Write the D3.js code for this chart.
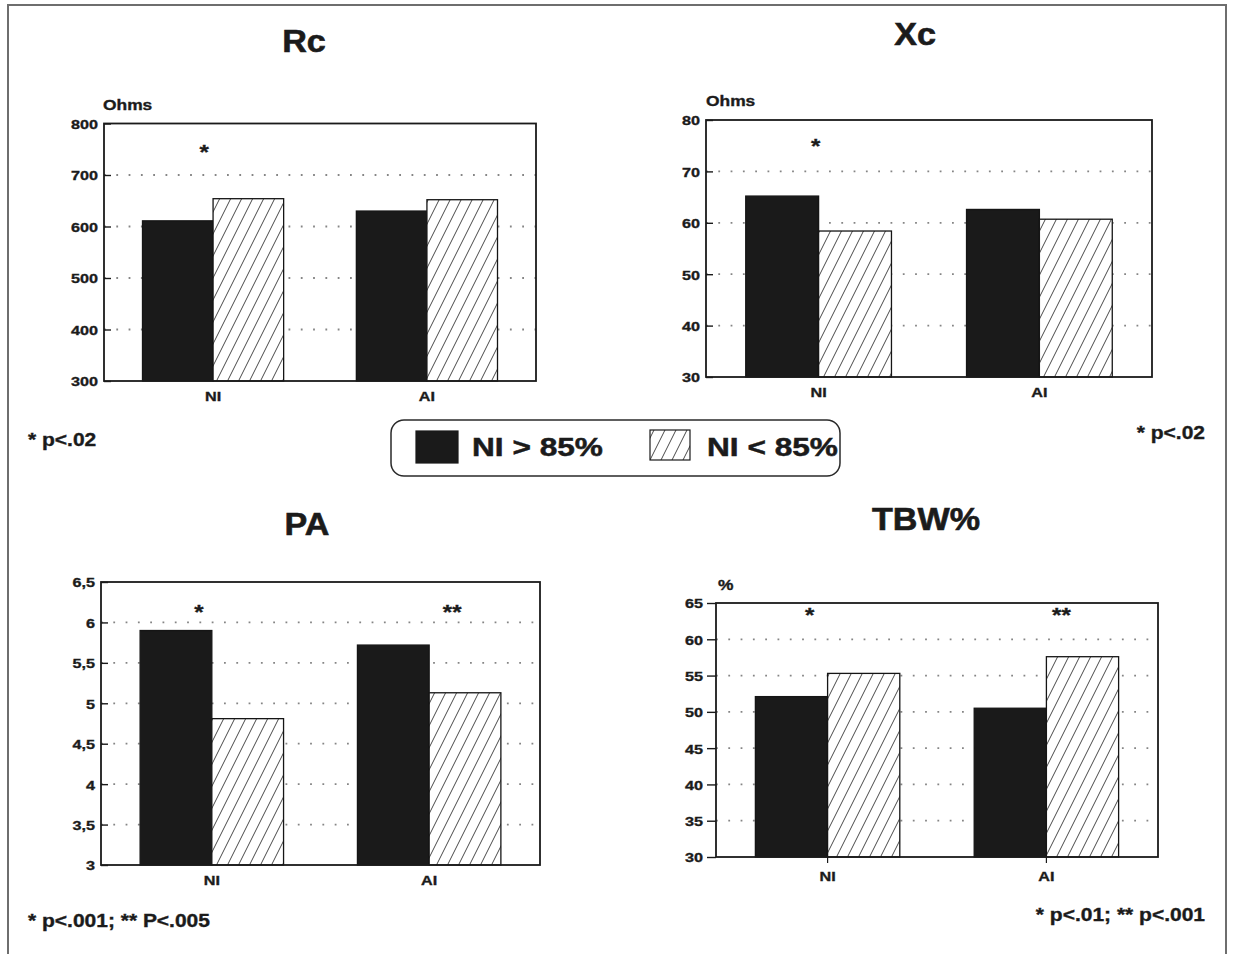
<!DOCTYPE html>
<html><head><meta charset="utf-8">
<script src="https://cdn.jsdelivr.net/npm/d3@7"></script>
<style>
body{margin:0;background:#fff}
svg{display:block}
text{font-family:"Liberation Sans",Arial,Helvetica,sans-serif;font-weight:bold;fill:#1b1b1b;stroke:#1b1b1b;stroke-width:0.35px}
</style>
</head><body>
<svg id="c" width="1233" height="954"></svg>
<script>
// ---------- data ----------
const categories = ["NI", "AI"];
const seriesNames = ["NI > 85%", "NI < 85%"];

const rcHigh = [611, 630];
const rcLow  = [654, 652];
const xcHigh = [65.2, 62.6];
const xcLow  = [58.4, 60.7];
const paHigh = [5.9, 5.72];
const paLow  = [4.81, 5.13];
const tbwHigh = [52.1, 50.5];
const tbwLow  = [55.3, 57.6];

const rcTicks  = [300, 400, 500, 600, 700, 800];
const xcTicks  = [30, 40, 50, 60, 70, 80];
const paTicks  = [3, 3.5, 4, 4.5, 5, 5.5, 6, 6.5];
const tbwTicks = [30, 35, 40, 45, 50, 55, 60, 65];

const rcStars  = ["*", ""];
const xcStars  = ["*", ""];
const paStars  = ["*", "**"];
const tbwStars = ["*", "**"];

const titles = ["Rc", "Xc", "PA", "TBW%"];
const units  = ["Ohms", "Ohms", "", "%"];
const notes  = ["* p<.02", "* p<.02", "* p<.001; ** P<.005", "* p<.01; ** p<.001"];

// ---------- layout ----------
const SX = 1.2; // horizontal stretch of the printed lettering
const panels = [
  {title: titles[0], unit: units[0], high: rcHigh, low: rcLow, ticks: rcTicks, stars: rcStars, note: notes[0],
   x0: 104, x1: 536, yTop: 123.5, yBot: 381, titleX: 304, titleY: 52, unitX: 103, unitY: 110,
   noteX: 28, noteY: 446, noteAnchor: "start", tickOut: false, starY: 25, starDx: [-9, 0], catPad: 10, xTick: 0},
  {title: titles[1], unit: units[1], high: xcHigh, low: xcLow, ticks: xcTicks, stars: xcStars, note: notes[1],
   x0: 706, x1: 1152, yTop: 120, yBot: 377, titleX: 915, titleY: 45, unitX: 706, unitY: 106,
   noteX: 1205, noteY: 439, noteAnchor: "end", tickOut: false, starY: 23, starDx: [-3, 0], catPad: 10, xTick: 0},
  {title: titles[2], unit: units[2], high: paHigh, low: paLow, ticks: paTicks, stars: paStars, note: notes[2],
   x0: 101, x1: 540, yTop: 582, yBot: 865, titleX: 307, titleY: 535, unitX: 101, unitY: 570,
   noteX: 28, noteY: 927, noteAnchor: "start", tickOut: false, starY: 27, starDx: [-13, 23], catPad: 10, xTick: 0},
  {title: titles[3], unit: units[3], high: tbwHigh, low: tbwLow, ticks: tbwTicks, stars: tbwStars, note: notes[3],
   x0: 716, x1: 1158, yTop: 603, yBot: 857, titleX: 926, titleY: 530, unitX: 718, unitY: 590,
   noteX: 1205, noteY: 921, noteAnchor: "end", tickOut: true, starY: 9, starDx: [-18, 15], catPad: 8, xTick: 6}
];

const svg = d3.select("#c");

// hatch pattern
const defs = svg.append("defs");
const pat = defs.append("pattern").attr("id", "hatch")
  .attr("patternUnits", "userSpaceOnUse").attr("width", 11).attr("height", 22);
pat.append("rect").attr("width", 11).attr("height", 22).attr("fill", "#fff");
pat.append("path").attr("d", "M0,22 L11,0 M-2,4 L2,-4 M9,26 L13,18")
  .attr("stroke", "#333").attr("stroke-width", 0.9).attr("fill", "none");

// outer frame
svg.append("rect").attr("x", 8).attr("y", 5).attr("width", 1218).attr("height", 965)
  .attr("fill", "none").attr("stroke", "#6e6e6e").attr("stroke-width", 2);

function stext(sel, x, y, str, size, anchor, sx) {
  return sel.append("text")
    .attr("transform", `translate(${x},${y}) scale(${sx === undefined ? SX : sx},1)`)
    .attr("text-anchor", anchor)
    .style("font-size", size + "px")
    .text(str);
}

const fmt = v => String(v).replace(".", ",");

panels.forEach(p => {
  const g = svg.append("g");
  const y = d3.scaleLinear().domain([p.ticks[0], p.ticks[p.ticks.length - 1]]).range([p.yBot, p.yTop]);
  const x = d3.scaleBand().domain(categories).range([p.x0, p.x1]).paddingInner(0.34).paddingOuter(0.18);
  const xs = d3.scaleBand().domain(seriesNames).range([0, x.bandwidth()]);

  // dotted gridlines
  g.append("g").selectAll("line").data(p.ticks.slice(1, -1)).join("line")
    .attr("x1", p.x0).attr("x2", p.x1)
    .attr("y1", d => y(d)).attr("y2", d => y(d))
    .attr("stroke", "#858585").attr("stroke-width", 1.8)
    .attr("stroke-dasharray", "1.8,10.5");

  // bars
  const rows = [];
  categories.forEach((c, i) => {
    rows.push({c, s: seriesNames[0], v: p.high[i]});
    rows.push({c, s: seriesNames[1], v: p.low[i]});
  });
  g.append("g").selectAll("rect").data(rows).join("rect")
    .attr("x", d => x(d.c) + xs(d.s))
    .attr("y", d => y(d.v))
    .attr("width", xs.bandwidth())
    .attr("height", d => y(p.ticks[0]) - y(d.v))
    .attr("fill", d => d.s === seriesNames[0] ? "#1a1a1a" : "url(#hatch)")
    .attr("stroke", "#151515").attr("stroke-width", 1.3);

  // plot box
  g.append("rect").attr("x", p.x0).attr("y", p.yTop)
    .attr("width", p.x1 - p.x0).attr("height", p.yBot - p.yTop)
    .attr("fill", "none").attr("stroke", "#1a1a1a").attr("stroke-width", 1.8);

  // y axis
  const ya = g.append("g").attr("transform", `translate(${p.x0},0)`)
    .call(d3.axisLeft(y).tickValues(p.ticks).tickFormat(fmt)
      .tickSizeInner(p.tickOut ? 9 : -7).tickSizeOuter(0).tickPadding(p.tickOut ? 4 : 6));
  ya.attr("font-family", null).attr("font-size", null);
  ya.select(".domain").remove();
  ya.selectAll(".tick line").attr("stroke", "#1a1a1a").attr("stroke-width", 1.4);
  ya.selectAll(".tick text").each(function () {
    const t = d3.select(this);
    const tx = +t.attr("x");
    t.attr("x", 0).attr("dy", "0.36em")
      .attr("transform", `translate(${tx},0) scale(${SX},1)`)
      .style("font-size", "13.5px");
  });

  // x axis (category labels)
  const xa = g.append("g").attr("transform", `translate(0,${p.yBot})`)
    .call(d3.axisBottom(x).tickSizeInner(p.xTick).tickSizeOuter(0).tickPadding(p.catPad));
  xa.attr("font-family", null).attr("font-size", null);
  xa.select(".domain").remove();
  xa.selectAll(".tick line").attr("stroke", "#1a1a1a").attr("stroke-width", 1.2);
  xa.selectAll(".tick text").each(function () {
    const t = d3.select(this);
    const ty = +t.attr("y");
    t.attr("y", 0).attr("transform", `translate(0,${ty}) scale(${SX},1)`)
      .style("font-size", "13.5px");
  });

  // significance stars
  categories.forEach((c, i) => {
    if (!p.stars[i]) return;
    stext(g, x(c) + x.bandwidth() / 2 + p.starDx[i], p.yTop + p.starY + 10, p.stars[i], 20, "middle", 1.2);
  });

  // title, unit, note
  stext(g, p.titleX, p.titleY, p.title, 31, "middle", 1.1).style("stroke-width", "0.6px");
  if (p.unit) stext(g, p.unitX, p.unitY, p.unit, 14.5, "start");
  stext(g, p.noteX, p.noteY, p.note, 17.5, p.noteAnchor);
});

// legend
const lg = svg.append("g");
lg.append("rect").attr("x", 391).attr("y", 420).attr("width", 449).attr("height", 56)
  .attr("rx", 13).attr("fill", "#fff").attr("stroke", "#2a2a2a").attr("stroke-width", 1.5);
const legItems = [
  {name: seriesNames[0], sx: 416, sw: 42, sy: 431, sh: 32, tx: 472, fill: "#1a1a1a"},
  {name: seriesNames[1], sx: 650, sw: 40, sy: 430, sh: 30, tx: 707, fill: "url(#hatch)"}
];
legItems.forEach(it => {
  lg.append("rect").attr("x", it.sx).attr("y", it.sy).attr("width", it.sw).attr("height", it.sh)
    .attr("fill", it.fill).attr("stroke", "#1a1a1a").attr("stroke-width", 1.2);
  stext(lg, it.tx, 456, it.name, 25.5, "start", 1.24).style("stroke-width", "0.5px");
});
</script>
</body></html>
